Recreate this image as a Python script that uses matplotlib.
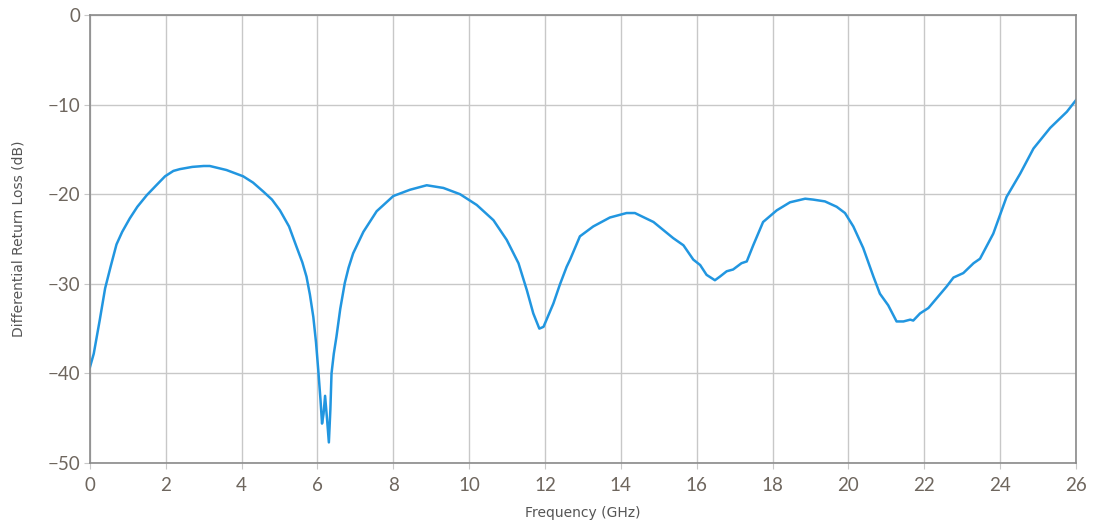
import numpy as np
import matplotlib
matplotlib.use("Agg")
import matplotlib.pyplot as plt

# frequency (GHz) and differential return loss (dB)
freq = [0.0, 0.1, 0.26, 0.4, 0.55, 0.70, 0.85, 1.05, 1.25, 1.5, 1.75, 1.98, 2.2, 2.37, 2.7,
        3.0, 3.16, 3.6, 4.04, 4.3, 4.57, 4.8, 5.01, 5.25, 5.45, 5.6, 5.71, 5.8, 5.89, 5.96,
        6.02, 6.08, 6.12, 6.16, 6.20, 6.25, 6.30, 6.34, 6.37, 6.43, 6.50, 6.60, 6.72, 6.82,
        6.94, 7.21, 7.56, 8.0, 8.44, 8.88, 9.32, 9.76, 10.2, 10.64, 10.99, 11.30, 11.52,
        11.69, 11.85, 11.96, 12.22, 12.39, 12.57, 12.66, 12.92, 13.27, 13.71, 14.15, 14.37,
        14.86, 15.38, 15.65, 15.91, 16.09, 16.26, 16.48, 16.61, 16.79, 16.96, 17.18, 17.32,
        17.49, 17.75, 18.11, 18.46, 18.86, 19.07, 19.38, 19.69, 19.91, 20.13, 20.39, 20.66,
        20.83, 21.05, 21.27, 21.45, 21.63, 21.71, 21.89, 22.11, 22.33, 22.59, 22.77, 23.03,
        23.30, 23.47, 23.82, 24.17, 24.53, 24.88, 25.32, 25.76, 26.0]
loss = [-39.3, -37.8, -34.0, -30.5, -28.0, -25.6, -24.2, -22.7, -21.4, -20.1, -19.0, -18.0,
        -17.4, -17.2, -16.95, -16.85, -16.85, -17.3, -18.0, -18.7, -19.7, -20.6, -21.8,
        -23.6, -25.9, -27.6, -29.2, -31.2, -33.7, -36.5, -39.6, -43.0, -45.6, -44.5, -42.5,
        -45.0, -47.7, -44.0, -40.0, -37.8, -35.9, -32.8, -29.9, -28.2, -26.6, -24.2, -21.9,
        -20.2, -19.5, -19.0, -19.3, -20.0, -21.2, -22.9, -25.1, -27.7, -30.7, -33.3, -35.0,
        -34.8, -32.2, -30.1, -28.1, -27.3, -24.7, -23.6, -22.6, -22.1, -22.1, -23.1, -24.9,
        -25.7, -27.3, -27.9, -29.0, -29.6, -29.2, -28.6, -28.4, -27.7, -27.5, -25.7, -23.1,
        -21.8, -20.9, -20.5, -20.6, -20.8, -21.4, -22.1, -23.6, -26.0, -29.2, -31.1, -32.4,
        -34.2, -34.2, -34.0, -34.1, -33.3, -32.7, -31.6, -30.3, -29.3, -28.8, -27.7, -27.2,
        -24.4, -20.3, -17.7, -14.9, -12.6, -10.8, -9.5]

x_ticks = list(range(0, 27, 2))
y_ticks = [0, -10, -20, -30, -40, -50]

fig = plt.figure(figsize=(10.93, 5.27), dpi=100)
ax = fig.add_axes([0.0823, 0.1214, 0.9021, 0.8501])

ax.plot(freq, loss, color="#2196e0", linewidth=1.8)

ax.set_xlim(0, 26)
ax.set_ylim(-50, 0)
ax.set_xticks(x_ticks)
ax.set_yticks(y_ticks)
ax.grid(True, color="#c8c8c8", linewidth=1.0)
ax.set_axisbelow(True)

for s in ax.spines.values():
    s.set_color("#8a8a8a")
    s.set_linewidth(1.2)

ax.tick_params(axis="both", length=4, color="#c8c8c8", labelsize=13.5,
               labelcolor="#6e665e")
ax.tick_params(axis="x", pad=6)
ax.tick_params(axis="y", pad=3)
for lab in ax.get_xticklabels() + ax.get_yticklabels():
    lab.set_family("Lato")

ax.set_xlabel("Frequency (GHz)", fontsize=10, color="#555555", labelpad=9)
ax.set_ylabel("Differential Return Loss (dB)", fontsize=10, color="#555555", labelpad=16)

fig.savefig("out.png", dpi=100)
